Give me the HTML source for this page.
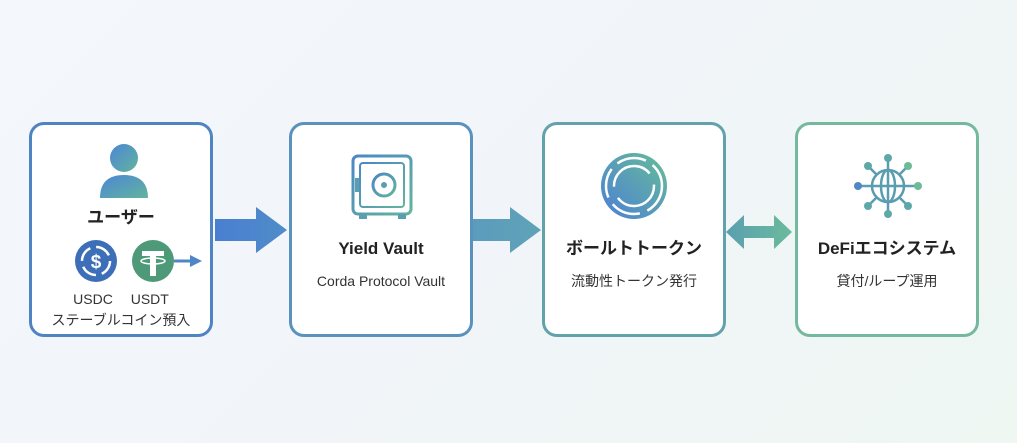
<!DOCTYPE html>
<html><head><meta charset="utf-8"><style>
body{margin:0;width:1017px;height:443px;overflow:hidden;background:linear-gradient(135deg,#f4f7fb 0%,#f1f5f9 50%,#eef7f2 100%);font-family:"Liberation Sans","Noto Sans CJK JP",sans-serif;position:relative}
.box{position:absolute;top:122px;width:184px;height:215px;background:#fff;border:3px solid;border-radius:15px;box-sizing:border-box;text-align:center;color:#222}
.t{position:absolute;left:0;right:0;font-weight:bold;font-size:17px;line-height:20px}
.s{position:absolute;left:0;right:0;font-size:14px;color:#333;line-height:18px}
</style></head><body>
<svg width="1017" height="443" style="position:absolute;left:0;top:0">
<defs>
<linearGradient id="g1" x1="0" x2="1"><stop offset="0" stop-color="#4a7fd0"/><stop offset="1" stop-color="#4f8cc8"/></linearGradient>
<linearGradient id="g2" x1="0" x2="1"><stop offset="0" stop-color="#5c9bbd"/><stop offset="1" stop-color="#5fa3b7"/></linearGradient>
<linearGradient id="g3" x1="0" x2="1"><stop offset="0" stop-color="#5a9fb0"/><stop offset="1" stop-color="#6bbb9c"/></linearGradient>
</defs>
<path d="M215 219 H256 V207 L287 230 L256 253 V241 H215 Z" fill="url(#g1)"/>
<path d="M473 219 H510 V207 L541 230 L510 253 V241 H473 Z" fill="url(#g2)"/>
<path d="M726 232 L744 215 V226 H774 V215 L792 232 L774 249 V238 H744 V249 Z" fill="url(#g3)"/>
</svg>
<div class="box" style="left:29px;border-color:#4f84c2">
<svg width="178" height="209" style="position:absolute;left:0;top:0">
<defs><linearGradient id="u" x1="0" y1="0" x2="1" y2="1"><stop offset="0" stop-color="#4c86d6"/><stop offset="1" stop-color="#62b49d"/></linearGradient></defs>
<circle cx="92" cy="33" r="14" fill="url(#u)"/>
<path d="M68 73 Q68 50 92 50 Q116 50 116 73 Z" fill="url(#u)"/>
<circle cx="64" cy="136" r="21" fill="#3c6fb8"/>
<circle cx="64" cy="136" r="14" fill="none" stroke="#fff" stroke-width="2.5" stroke-dasharray="16 6"/>
<text x="64" y="143" font-size="19" font-weight="bold" fill="#fff" text-anchor="middle" font-family="Liberation Sans">$</text>
<circle cx="121" cy="136" r="21" fill="#4e9a78"/>
<path d="M110 126 H132 V131 H124 V151 H118 V131 H110 Z" fill="#fff"/>
<ellipse cx="121" cy="136" rx="12" ry="3" fill="none" stroke="#fff" stroke-width="1.5"/>
<path d="M142 136 H160" stroke="#4f86c6" stroke-width="3"/><path d="M158 130 L170 136 L158 142Z" fill="#4f86c6"/>
</svg>
<div class="t" style="top:83px">ユーザー</div>
<div class="s" style="top:165px;word-spacing:14px">USDC USDT</div>
<div class="s" style="top:186px">ステーブルコイン預入</div>
</div>
<div class="box" style="left:289px;border-color:#5a92bd">
<svg width="178" height="209" style="position:absolute;left:0;top:0">
<defs><linearGradient id="v" x1="0" y1="0" x2="1" y2="1"><stop offset="0" stop-color="#4c86c6"/><stop offset="1" stop-color="#62b49d"/></linearGradient></defs>
<rect x="61" y="31" width="58" height="58" rx="5" fill="none" stroke="url(#v)" stroke-width="3"/>
<rect x="68" y="38" width="44" height="44" rx="3" fill="none" stroke="url(#v)" stroke-width="2"/>
<circle cx="92" cy="60" r="11" fill="none" stroke="url(#v)" stroke-width="3"/>
<circle cx="92" cy="60" r="3" fill="#5a9fb0"/>
<rect x="63" y="53" width="4" height="14" fill="#5a9fb0"/>
<rect x="67" y="89" width="8" height="5" fill="#5a9fb0"/><rect x="106" y="89" width="8" height="5" fill="#5a9fb0"/>
</svg>
<div class="t" style="top:114px">Yield Vault</div>
<div class="s" style="top:147px">Corda Protocol Vault</div>
</div>
<div class="box" style="left:542px;border-color:#62a2ab">
<svg width="178" height="209" style="position:absolute;left:0;top:0">
<defs><linearGradient id="c" x1="0" y1="1" x2="1" y2="0"><stop offset="0" stop-color="#4c7fd6"/><stop offset="1" stop-color="#66bd98"/></linearGradient></defs>
<circle cx="89" cy="61" r="33" fill="url(#c)"/>
<circle cx="89" cy="61" r="28" fill="none" stroke="#fff" stroke-width="2.5" stroke-dasharray="30 8"/>
<circle cx="89" cy="61" r="20" fill="none" stroke="#fff" stroke-width="2.5" stroke-dasharray="50 12"/>
</svg>
<div class="t" style="top:114px">ボールトトークン</div>
<div class="s" style="top:147px">流動性トークン発行</div>
</div>
<div class="box" style="left:795px;border-color:#74b99e">
<svg width="178" height="209" style="position:absolute;left:0;top:0" stroke="#5a9cb0" stroke-width="2.5">
<g fill="none">
<circle cx="90" cy="61" r="16"/><ellipse cx="90" cy="61" rx="7" ry="16"/><line x1="74" y1="61" x2="106" y2="61"/><line x1="90" y1="45" x2="90" y2="77"/>
<line x1="90" y1="45" x2="90" y2="34"/><line x1="90" y1="77" x2="90" y2="88"/><line x1="74" y1="61" x2="62" y2="61"/><line x1="106" y1="61" x2="118" y2="61"/>
<line x1="79" y1="50" x2="71" y2="42"/><line x1="101" y1="50" x2="109" y2="42"/><line x1="79" y1="72" x2="71" y2="80"/><line x1="101" y1="72" x2="109" y2="80"/>
</g>
<g stroke="none" fill="#5fa8a8"><circle cx="90" cy="33" r="4"/><circle cx="90" cy="89" r="4"/><circle cx="60" cy="61" r="4" fill="#4f88c4"/><circle cx="120" cy="61" r="4" fill="#6bbb98"/><circle cx="70" cy="41" r="4"/><circle cx="110" cy="41" r="4" fill="#6bbb98"/><circle cx="70" cy="81" r="4"/><circle cx="110" cy="81" r="4"/></g>
</svg>
<div class="t" style="top:114px">DeFiエコシステム</div>
<div class="s" style="top:147px">貸付/ループ運用</div>
</div>
</body></html>
